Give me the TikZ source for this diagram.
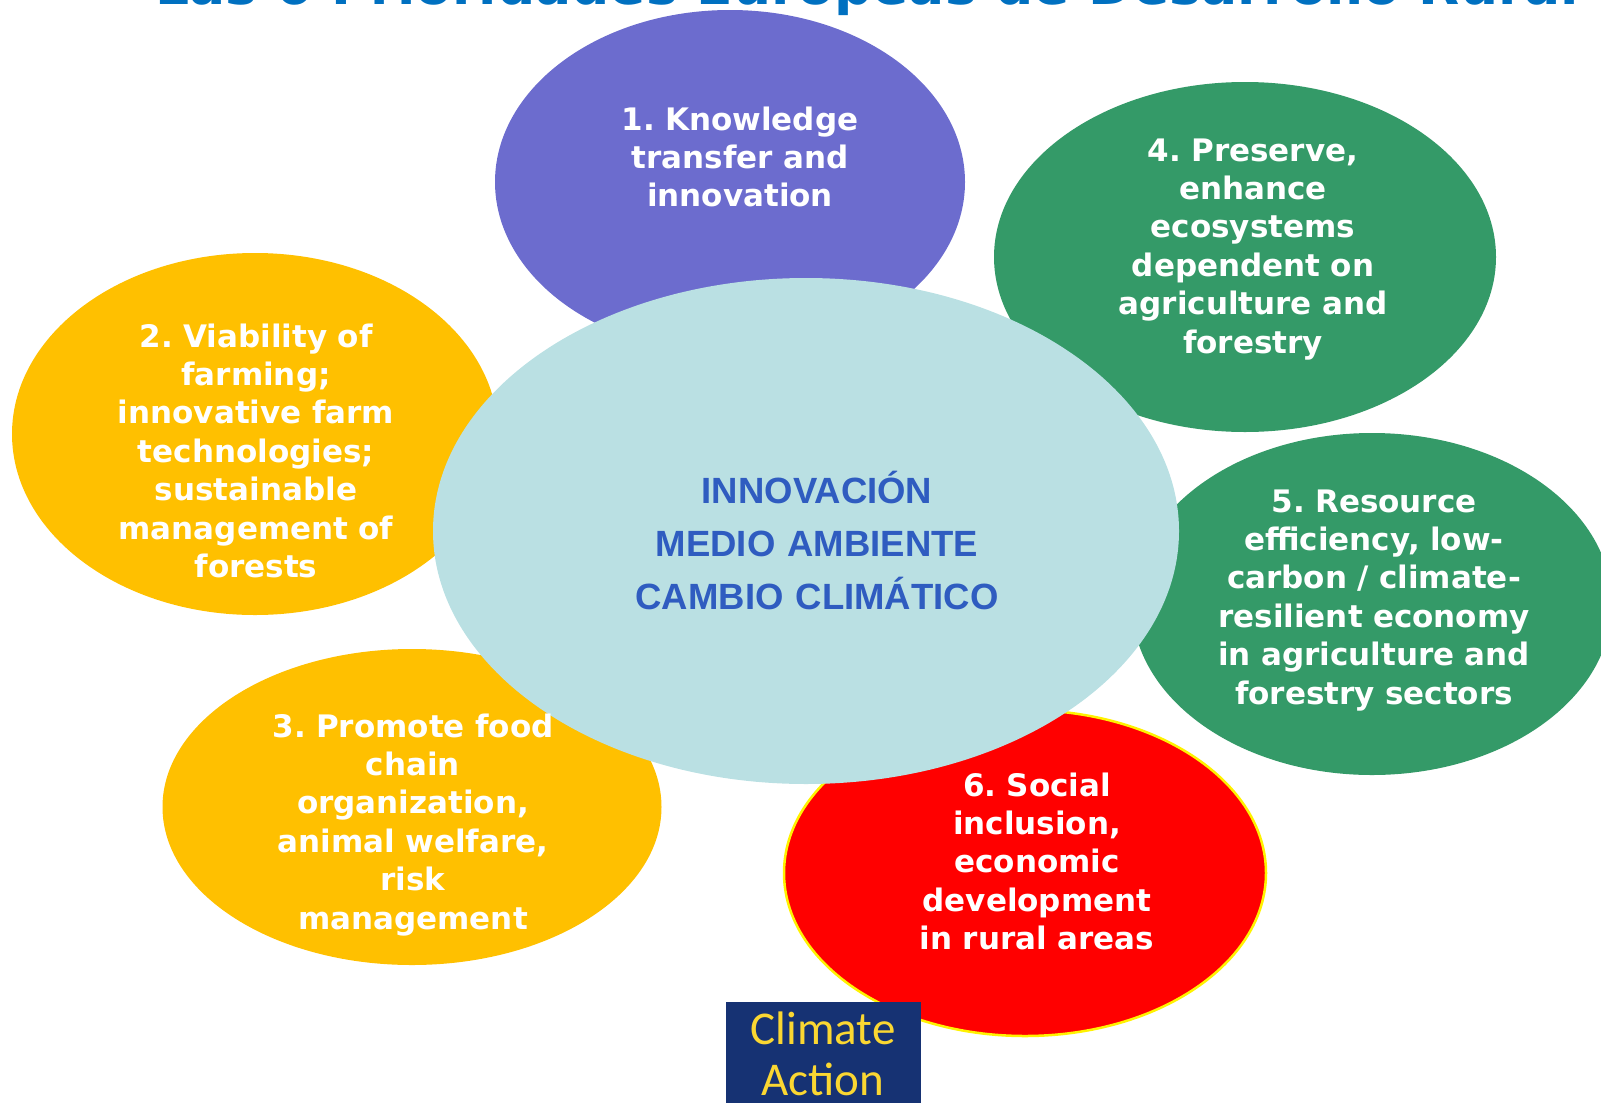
\documentclass[tikz,border=0pt]{standalone}
\usepackage{fontspec}
\usetikzlibrary{shapes.geometric}
\newfontfamily\prifont{DejaVu Sans}
\newfontfamily\cenfont{Liberation Sans}
\newfontfamily\boxfont{Carlito}
\definecolor{prioPurple}{RGB}{108,108,206}
\definecolor{prioYellow}{RGB}{255,192,0}
\definecolor{prioGreen}{RGB}{52,154,104}
\definecolor{prioRed}{RGB}{255,0,0}
\definecolor{coreBlue}{RGB}{186,224,227}
\definecolor{coreText}{RGB}{47,92,192}
\definecolor{titleBlue}{RGB}{0,112,192}
\definecolor{boxNavy}{RGB}{22,50,115}
\definecolor{boxGold}{RGB}{250,215,50}
\frenchspacing
\begin{document}
\begin{tikzpicture}[x=1pt,y=-1pt,
  blob/.style={ellipse, inner sep=0pt, outer sep=0pt, draw=none},
  prio/.style={anchor=base, text=white, inner sep=0pt, text width=460pt, align=center,
    font=\prifont\bfseries\fontsize{31}{38.4}\selectfont},
  core/.style={anchor=base, text=coreText, inner sep=0pt, text width=460pt, align=center,
    font=\cenfont\bfseries\fontsize{36.5}{53}\selectfont}]
\useasboundingbox (0,0) rectangle (1601,1103);
\clip (0,0) rectangle (1601,1103);

% heading, mostly above the page edge
\node[anchor=base west, inner sep=0pt, text=titleBlue,
  font=\prifont\bfseries\fontsize{53.5}{60}\selectfont] (title) at (155,4)
  {Las 6 Prioridades Europeas de Desarrollo Rural};

% the six priorities
\node[blob, fill=prioPurple, minimum width=470pt, minimum height=344pt] (e1) at (730,182) {};
\node[blob, fill=prioYellow, minimum width=486pt, minimum height=362pt] (e2) at (255,434) {};
\node[blob, fill=prioYellow, minimum width=499pt, minimum height=316pt] (e3) at (412,807) {};
\node[blob, fill=prioGreen, minimum width=502pt, minimum height=350pt] (e4) at (1245,257) {};
\node[blob, fill=prioGreen, minimum width=480pt, minimum height=342pt] (e5) at (1372,604) {};
\node[blob, fill=prioRed, draw=yellow, line width=2.5pt, minimum width=482pt, minimum height=326pt] (e6) at (1025,873) {};

% central theme
\node[blob, fill=coreBlue, minimum width=746pt, minimum height=506pt] (core) at (806,531) {};

\node[prio] (t1) at (740,130) {1. Knowledge\\transfer and\\innovation};
\node[prio] (t2) at (256,347) {2. Viability of\\farming;\\innovative farm\\technologies;\\sustainable\\management of\\forests};
\node[prio] (t3) at (413,737) {3. Promote food\\chain\\organization,\\animal welfare,\\risk\\management};
\node[prio] (t4) at (1253,161) {4. Preserve,\\enhance\\ecosystems\\dependent on\\agriculture and\\forestry};
\node[prio] (t5) at (1374,512) {5. Resource\\efficiency, low-\\carbon / climate-\\resilient economy\\in agriculture and\\forestry sectors};
\node[prio] (t6) at (1037,796) {6. Social\\inclusion,\\economic\\development\\in rural areas};

\node[core] (ct) at (817,503) {INNOVACIÓN\\MEDIO AMBIENTE\\CAMBIO CLIMÁTICO};

% badge at the bottom
\node[anchor=north west, fill=boxNavy, inner sep=0pt, minimum width=195pt, minimum height=120pt] (badge) at (726,1002) {};
\node[anchor=base, text=boxGold, inner sep=0pt, text width=195pt, align=center,
  font=\boxfont\fontsize{47}{51}\selectfont] (badgetext) at (823,1044) {Climate\\Action};
\end{tikzpicture}
\end{document}
